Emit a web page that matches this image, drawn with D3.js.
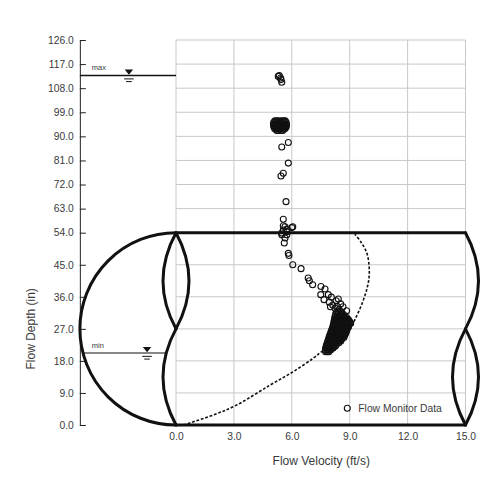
<!DOCTYPE html>
<html>
<head>
<meta charset="utf-8">
<script src="https://cdn.jsdelivr.net/npm/d3@7"></script>
<style>
  body { margin: 0; background: #fff; }
  text { font-family: "Liberation Sans", Arial, sans-serif; }
</style>
</head>
<body>
<div id="chart"></div>
<script>
// axis ticks
const yTicks = [0, 9, 18, 27, 36, 45, 54, 63, 72, 81, 90, 99, 108, 117, 126];
const xTicks = [0, 3, 6, 9, 12, 15];

// pipe: 54 in diameter, drawn across the velocity range
const pipeDiameter = 54;
const pipeLength = 15;
const maxLevel = 112.7;
const minLevel = 20.2;

// theoretical velocity/depth curve (dashed)
const curveVelocity = [0.38, 1.93, 3.14, 4.87, 6.08, 7.10, 7.55, 8.30, 9.02, 9.27, 9.62, 9.88, 10.0, 10.0, 9.88, 9.62, 9.27];
const curveDepth    = [0.0,  2.8,  5.6,  11.2, 15.0, 18.7, 20.6, 23.4, 26.8, 29.6, 33.8, 38.0, 41.3, 45.0, 48.4, 51.1, 53.6];

// flow monitor readings [velocity, depth]
const scatteredReadings = [
  [5.30, 112.4], [5.35, 112.7], [5.42, 111.8], [5.44, 111.2], [5.48, 110.2],
  [5.82, 87.7], [5.48, 86.0], [5.82, 80.0], [5.56, 76.2], [5.44, 75.2],
  [5.70, 65.6], [5.56, 59.0], [5.56, 56.6], [6.05, 56.2], [5.74, 55.3],
  [5.65, 56.2], [6.00, 55.9], [5.56, 55.0], [5.74, 54.4], [5.48, 53.9],
  [5.74, 53.4], [5.48, 53.4], [5.65, 52.5], [5.61, 51.1], [5.82, 48.2],
  [5.85, 47.6], [6.05, 45.0], [6.48, 43.9], [6.85, 41.3], [6.91, 40.5],
  [7.08, 39.4], [7.51, 38.9], [7.72, 38.2], [7.50, 36.6], [7.89, 36.6],
  [7.67, 35.2], [7.94, 34.5], [8.41, 35.4], [8.53, 34.0], [8.12, 33.7],
  [8.24, 32.8], [8.84, 32.1], [8.05, 35.9], [8.30, 34.9], [8.00, 33.2],
  [8.35, 33.3], [8.65, 33.2], [8.45, 32.4]
];

// dense cluster around 92-96 in
const blobDepths = [95.8, 95.2, 94.6, 94.0, 93.4, 92.8, 92.2];
const blobVelocities = [
  [5.12, 5.22, 5.33, 5.47, 5.58, 5.66],
  [5.06, 5.15, 5.26, 5.38, 5.51, 5.62, 5.71],
  [5.05, 5.13, 5.25, 5.36, 5.48, 5.60, 5.72],
  [5.06, 5.16, 5.27, 5.39, 5.50, 5.63, 5.72],
  [5.08, 5.18, 5.29, 5.42, 5.54, 5.65, 5.70],
  [5.12, 5.21, 5.34, 5.45, 5.57, 5.64],
  [5.22, 5.31, 5.44, 5.53]
];

// dense band between 20 and 32 in
const bandDepths = [31.7, 31.1, 30.6, 30.1, 29.6, 29.1, 28.6, 28.1, 27.6, 27.1, 26.6, 26.1,
                    25.6, 25.1, 24.6, 24.1, 23.6, 23.1, 22.6, 22.1, 21.6, 21.1, 20.6];
const bandVelocities = [
  [8.31, 8.40, 8.51, 8.58],
  [8.27, 8.37, 8.49, 8.57, 8.67],
  [8.25, 8.36, 8.44, 8.55, 8.66, 8.76],
  [8.23, 8.33, 8.45, 8.54, 8.63, 8.75, 8.85],
  [8.21, 8.32, 8.41, 8.53, 8.62, 8.71, 8.83, 8.93],
  [8.19, 8.30, 8.41, 8.49, 8.61, 8.70, 8.79, 8.91, 8.99],
  [8.18, 8.27, 8.39, 8.48, 8.57, 8.69, 8.78, 8.87, 8.97, 9.05],
  [8.15, 8.26, 8.35, 8.47, 8.56, 8.65, 8.77, 8.86, 8.96],
  [8.13, 8.22, 8.34, 8.43, 8.52, 8.64, 8.73, 8.82, 8.92],
  [8.10, 8.21, 8.29, 8.41, 8.50, 8.59, 8.71, 8.80, 8.88],
  [8.06, 8.17, 8.26, 8.35, 8.47, 8.56, 8.65, 8.77, 8.85],
  [8.03, 8.12, 8.24, 8.33, 8.42, 8.54, 8.63, 8.72, 8.82],
  [8.00, 8.11, 8.19, 8.31, 8.40, 8.49, 8.61, 8.69, 8.78],
  [7.96, 8.07, 8.16, 8.25, 8.37, 8.46, 8.55, 8.66, 8.74],
  [7.93, 8.02, 8.14, 8.23, 8.32, 8.44, 8.52, 8.62, 8.70],
  [7.90, 8.01, 8.09, 8.21, 8.30, 8.39, 8.51, 8.58],
  [7.87, 7.96, 8.08, 8.17, 8.26, 8.38, 8.46, 8.54],
  [7.84, 7.95, 8.03, 8.15, 8.24, 8.33, 8.44],
  [7.81, 7.90, 8.02, 8.11, 8.20, 8.31],
  [7.78, 7.89, 7.97, 8.09, 8.17, 8.25],
  [7.76, 7.85, 7.97, 8.05, 8.14],
  [7.74, 7.84, 7.93, 8.02],
  [7.75, 7.84, 7.92]
];

const readings = scatteredReadings
  .concat(blobDepths.flatMap((d, i) => blobVelocities[i].map(v => [v, d])))
  .concat(bandDepths.flatMap((d, i) => bandVelocities[i].map(v => [v, d])));

const ink = "#111";
const textColor = "#3a3a3a";

const plot = { left: 176, right: 465.5, top: 40, bottom: 425, split: 232.7 };

const svg = d3.select("#chart")
  .append("svg")
  .attr("width", 500)
  .attr("height", 500);

const xScale = d3.scaleLinear().domain([0, pipeLength]).range([plot.left, plot.right]);
// the pipe part of the depth axis is stretched
const yScale = d3.scaleLinear().domain([0, pipeDiameter, 126]).range([plot.bottom, plot.split, plot.top]);

const pipeTop = yScale(pipeDiameter), pipeBot = yScale(0), pipeMid = yScale(pipeDiameter / 2);
const radius = (pipeBot - pipeTop) / 2;
const axisX = xScale(0) - radius;
const bulge = 13;

// grid
const grid = svg.append("g").attr("stroke", "#c8c8c8").attr("stroke-width", 1);
grid.selectAll("line.v")
  .data(xTicks)
  .join("line")
  .attr("class", "v")
  .attr("x1", d => xScale(d)).attr("x2", d => xScale(d))
  .attr("y1", yScale(126)).attr("y2", yScale(0));
grid.selectAll("line.h")
  .data(yTicks)
  .join("line")
  .attr("class", "h")
  .attr("x1", xScale(0)).attr("x2", xScale(pipeLength))
  .attr("y1", d => yScale(d)).attr("y2", d => yScale(d));

// y axis
svg.append("g")
  .attr("transform", `translate(${axisX},0)`)
  .call(d3.axisLeft(yScale).tickValues(yTicks).tickFormat(d3.format(".1f"))
    .tickSizeInner(-6).tickSizeOuter(0).tickPadding(6))
  .attr("font-size", 10.3)
  .attr("font-family", null)
  .style("color", "#222")
  .call(g => g.selectAll("text").attr("fill", textColor));

// x axis labels
svg.append("g")
  .attr("transform", `translate(0,${plot.bottom})`)
  .call(d3.axisBottom(xScale).tickValues(xTicks).tickFormat(d3.format(".1f")).tickSize(0).tickPadding(8))
  .attr("font-size", 10.3)
  .attr("font-family", null)
  .call(g => g.select(".domain").remove())
  .call(g => g.selectAll("text").attr("fill", textColor));

// theoretical curve
const curveLine = d3.line()
  .x((d, i) => xScale(curveVelocity[i]))
  .y(d => yScale(d))
  .curve(d3.curveCatmullRom);
svg.append("path")
  .attr("d", curveLine(curveDepth))
  .attr("fill", "none")
  .attr("stroke", ink)
  .attr("stroke-width", 1.6)
  .attr("stroke-dasharray", "2.8,1.8");

// pipe outline
function lens(v, d0, d1, dx) {
  const x = xScale(v), y0 = yScale(d0), y1 = yScale(d1);
  return `M${x},${y0}Q${x + 2 * dx},${(y0 + y1) / 2} ${x},${y1}`;
}
const pipePaths = [
  `M${xScale(0)},${pipeTop}H${xScale(pipeLength)}`,
  `M${xScale(0)},${pipeBot}H${xScale(pipeLength)}`,
  `M${xScale(0)},${pipeTop}A${radius},${radius} 0 0 0 ${xScale(0)},${pipeBot}`,
  lens(0, pipeDiameter, pipeDiameter / 2, -bulge),
  lens(0, pipeDiameter, pipeDiameter / 2, bulge),
  lens(0, pipeDiameter / 2, 0, -bulge),
  lens(pipeLength, pipeDiameter, pipeDiameter / 2, bulge),
  lens(pipeLength, pipeDiameter / 2, 0, -bulge),
  lens(pipeLength, pipeDiameter / 2, 0, bulge)
];
svg.append("g")
  .selectAll("path")
  .data(pipePaths)
  .join("path")
  .attr("d", d => d)
  .attr("fill", "none")
  .attr("stroke", ink)
  .attr("stroke-width", 3)
  .attr("stroke-linejoin", "round")
  .attr("stroke-linecap", "round");

// water level markers
function levelMarker(depth, label, x0, x1, cx, width) {
  const y = yScale(depth);
  const g = svg.append("g");
  g.append("line")
    .attr("x1", x0).attr("x2", x1).attr("y1", y).attr("y2", y)
    .attr("stroke", ink).attr("stroke-width", width);
  g.append("path")
    .attr("d", `M${cx - 4.2},${y - 6}L${cx + 4.2},${y - 6}L${cx},${y - 0.8}Z`)
    .attr("fill", ink);
  g.append("line")
    .attr("x1", cx - 4.8).attr("x2", cx + 4.8).attr("y1", y + 3.3).attr("y2", y + 3.3)
    .attr("stroke", ink).attr("stroke-width", 1);
  g.append("line")
    .attr("x1", cx - 2.8).attr("x2", cx + 2.8).attr("y1", y + 6).attr("y2", y + 6)
    .attr("stroke", ink).attr("stroke-width", 1);
  g.append("text")
    .attr("x", axisX + 12).attr("y", y - 5.5)
    .attr("font-size", 7.5)
    .attr("fill", textColor)
    .text(label);
}

levelMarker(maxLevel, "max", axisX, xScale(0), xScale(-2.44), 1.5);

const yMin = yScale(minLevel);
const minLeft = xScale(0) - Math.sqrt(radius * radius - (yMin - pipeMid) ** 2);
const t = (yMin - pipeMid) / (pipeBot - pipeMid);
const minRight = xScale(0) - 4 * t * (1 - t) * bulge;
levelMarker(minLevel, "min", minLeft, minRight, xScale(-1.5), 1.1);

// monitor readings
svg.append("g")
  .selectAll("circle")
  .data(readings)
  .join("circle")
  .attr("cx", d => xScale(d[0]))
  .attr("cy", d => yScale(d[1]))
  .attr("r", 3)
  .attr("fill", "none")
  .attr("stroke", ink)
  .attr("stroke-width", 1.1);

// legend
const legend = svg.append("g").attr("transform", "translate(347.3,408.3)");
legend.append("circle")
  .attr("r", 3)
  .attr("fill", "none")
  .attr("stroke", ink)
  .attr("stroke-width", 1.1);
legend.append("text")
  .attr("x", 11).attr("y", 3.8)
  .attr("font-size", 10.3)
  .attr("fill", textColor)
  .text("Flow Monitor Data");

// axis titles
svg.append("text")
  .attr("x", (xScale(0) + xScale(pipeLength)) / 2 + 0.5)
  .attr("y", 465)
  .attr("text-anchor", "middle")
  .attr("font-size", 12)
  .attr("fill", textColor)
  .text("Flow Velocity (ft/s)");

svg.append("text")
  .attr("transform", `translate(35,${pipeMid}) rotate(-90)`)
  .attr("text-anchor", "middle")
  .attr("font-size", 12)
  .attr("fill", textColor)
  .text("Flow Depth (in)");
</script>
</body>
</html>
